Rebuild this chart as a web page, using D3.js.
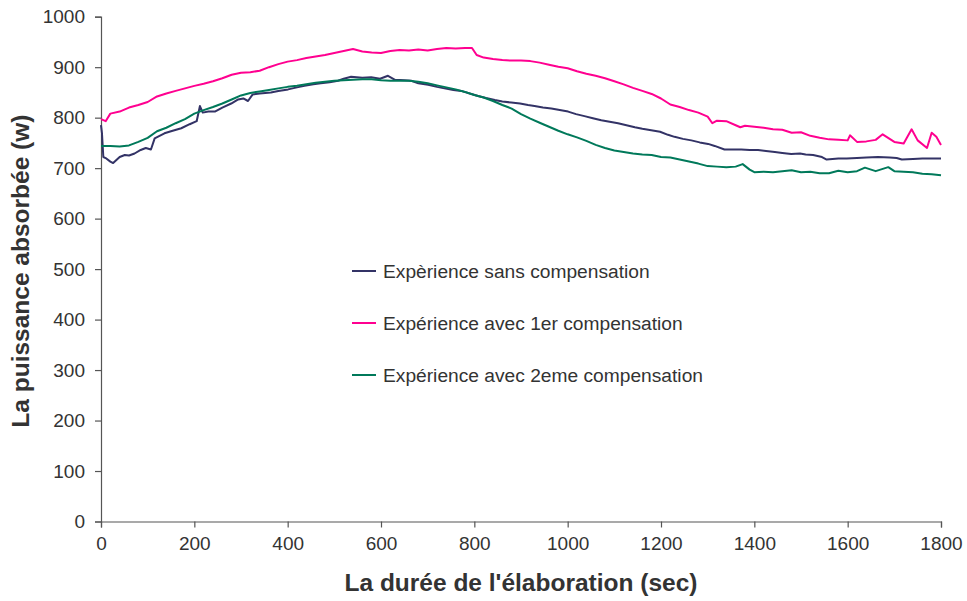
<!DOCTYPE html>
<html><head><meta charset="utf-8">
<script src="https://cdn.jsdelivr.net/npm/d3@7"></script>
<style>body{margin:0;background:#fff}svg{display:block}text{font-family:"Liberation Sans",Arial,sans-serif;fill:#333}</style>
</head><body><svg id="c" width="967" height="601"></svg>
<script>
const xTicks = [0,200,400,600,800,1000,1200,1400,1600,1800];
const yTicks = [0,100,200,300,400,500,600,700,800,900,1000];
const seriesNames = ["Expèrience sans compensation","Expérience avec 1er compensation","Expérience avec 2eme compensation"];
const seriesColors = ["#333366","#ff0090","#00795a"];

// [time (sec), power (W)]
const sansComp = [[0,785],[2,770],[5,722],[10,720],[20,713],[26,710],[40,722],[51,726],[60,725],[72,729],[85,736],[96,740],[107,737],[115,759],[136,769],[150,773],[172,779],[190,787],[205,793],[212,823],[218,810],[230,812],[244,812],[260,820],[279,828],[294,836],[305,838],[315,833],[325,846],[340,848],[364,850],[380,853],[401,856],[420,860],[436,863],[455,866],[471,868],[490,870],[508,873],[520,877],[536,881],[560,879],[579,880],[598,877],[615,883],[630,875],[650,874],[665,873],[680,868],[701,865],[720,861],[736,858],[755,855],[772,853],[790,848],[808,843],[825,839],[844,835],[860,832],[879,830],[898,828],[915,825],[929,823],[947,820],[965,818],[983,815],[1001,812],[1018,807],[1036,803],[1054,799],[1072,795],[1090,792],[1108,789],[1126,785],[1144,781],[1160,778],[1179,775],[1198,772],[1215,766],[1229,762],[1247,758],[1265,755],[1283,751],[1301,748],[1315,744],[1336,737],[1355,737],[1372,737],[1390,736],[1408,736],[1425,734],[1444,732],[1460,730],[1479,728],[1498,729],[1510,727],[1526,726],[1545,722],[1555,717],[1580,719],[1598,719],[1620,720],[1640,721],[1665,722],[1690,721],[1705,720],[1716,717],[1740,718],[1760,719],[1780,719],[1800,719]];

const avec1er = [[0,797],[10,793],[20,808],[40,812],[60,820],[80,825],[100,831],[120,842],[140,848],[160,853],[180,858],[200,863],[220,867],[240,872],[260,878],[280,885],[300,889],[320,890],[340,893],[360,900],[380,906],[400,911],[420,914],[440,918],[460,921],[480,924],[500,928],[520,932],[540,936],[560,931],[580,929],[600,928],[620,932],[640,934],[660,933],[680,935],[700,933],[720,936],[740,938],[760,937],[780,938],[795,938],[805,924],[820,919],[840,916],[860,914],[880,913],[900,913],[920,912],[940,909],[960,905],[980,901],[1000,898],[1020,892],[1040,887],[1060,883],[1080,878],[1100,872],[1120,866],[1140,859],[1160,853],[1180,847],[1200,838],[1220,826],[1240,821],[1260,815],[1280,810],[1300,802],[1310,789],[1320,794],[1340,793],[1360,785],[1370,781],[1380,784],[1400,782],[1420,780],[1440,777],[1460,776],[1480,770],[1500,771],[1520,764],[1540,760],[1560,757],[1580,756],[1600,755],[1605,765],[1620,752],[1640,753],[1660,756],[1675,767],[1700,752],[1720,749],[1737,777],[1750,755],[1770,740],[1780,770],[1790,762],[1800,746]];

const avec2eme = [[0,744],[20,744],[40,743],[60,745],[80,752],[100,760],[120,773],[140,780],[160,789],[180,797],[200,808],[220,815],[240,821],[260,828],[280,836],[300,844],[320,849],[340,852],[360,855],[380,858],[400,861],[420,863],[440,866],[460,869],[480,871],[500,873],[520,874],[540,875],[560,876],[580,876],[600,874],[620,873],[640,873],[660,873],[680,871],[700,868],[720,864],[740,860],[760,856],[780,851],[800,845],[820,840],[840,833],[860,825],[880,818],[900,807],[920,798],[940,790],[960,782],[980,774],[1000,767],[1020,761],[1040,754],[1060,746],[1080,740],[1100,735],[1120,732],[1140,729],[1160,727],[1180,726],[1200,722],[1220,721],[1240,717],[1260,713],[1280,709],[1300,704],[1320,703],[1340,702],[1360,703],[1375,708],[1390,697],[1400,692],[1420,693],[1440,692],[1460,694],[1480,696],[1500,692],[1520,693],[1540,690],[1560,690],[1580,695],[1600,692],[1620,694],[1637,701],[1660,694],[1687,702],[1700,694],[1720,693],[1740,692],[1760,689],[1780,688],[1800,686]];

const allSeries = [sansComp, avec1er, avec2eme];

const svg = d3.select("#c");
const m = {l:101, r:941, t:16.7, b:521.5};
const x = d3.scaleLinear().domain([0,1800]).range([m.l,m.r]);
const y = d3.scaleLinear().domain([0,1000]).range([m.b,m.t]);

const yAxis = svg.append("g").attr("transform",`translate(${m.l},0)`)
  .call(d3.axisLeft(y).tickValues(yTicks).tickSize(6).tickPadding(10).tickFormat(d3.format("d")));
const xAxis = svg.append("g").attr("transform",`translate(0,${m.b})`)
  .call(d3.axisBottom(x).tickValues(xTicks).tickSize(6).tickPadding(9).tickFormat(d3.format("d")));
[yAxis,xAxis].forEach(a=>{
  a.selectAll("path,line").attr("stroke","#555").attr("stroke-width",1.2);
  a.selectAll("text").attr("font-size",19).attr("fill","#333").style("font-family","'Liberation Sans',Arial,sans-serif");
});

const line = d3.line().x(d=>x(d[0])).y(d=>y(d[1]));
allSeries.forEach((s,i)=>{
  svg.append("path").datum(s).attr("d",line).attr("fill","none")
    .attr("stroke",seriesColors[i]).attr("stroke-width",2).attr("stroke-linejoin","round");
});

// legend
const lg = svg.append("g");
seriesNames.forEach((n,i)=>{
  const yy = 271 + i*52;
  lg.append("line").attr("x1",352).attr("x2",376).attr("y1",yy).attr("y2",yy)
    .attr("stroke",seriesColors[i]).attr("stroke-width",2);
  lg.append("text").attr("x",383).attr("y",yy+6.8).attr("font-size",19.2).text(n);
});

// axis titles
svg.append("text").attr("x",(m.l+m.r)/2).attr("y",591).attr("text-anchor","middle")
  .attr("font-size",24.5).attr("font-weight","bold").text("La durée de l'élaboration (sec)");
svg.append("text").attr("transform",`translate(29,${(m.t+m.b)/2+2}) rotate(-90)`).attr("text-anchor","middle")
  .attr("font-size",24.5).attr("font-weight","bold").text("La puissance absorbée (w)");
</script></body></html>
